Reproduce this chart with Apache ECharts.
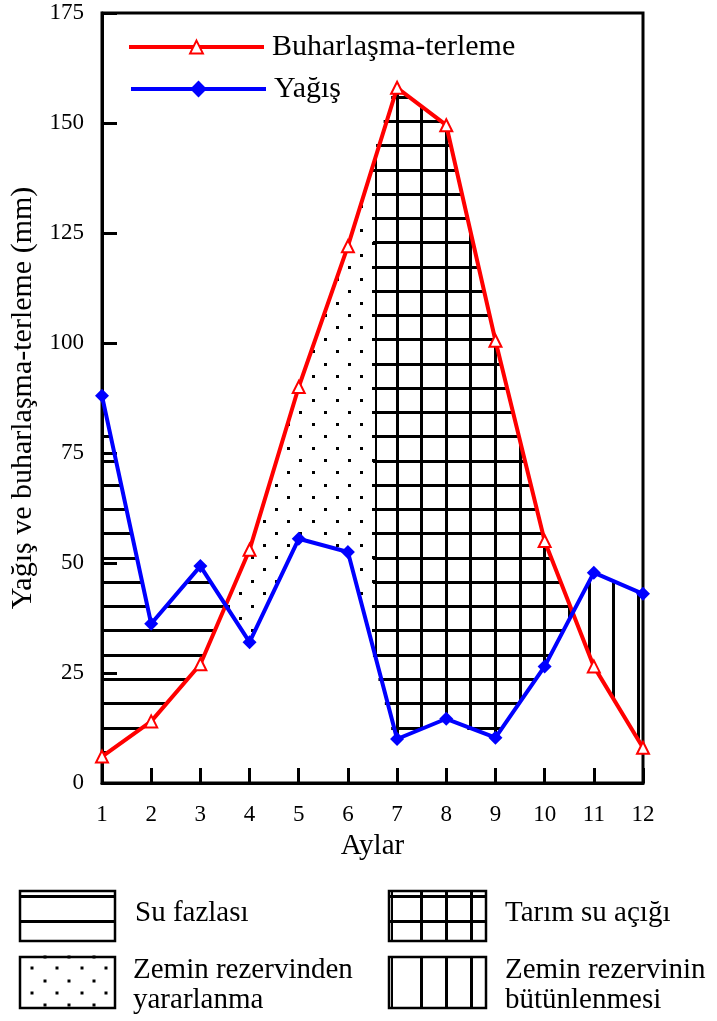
<!DOCTYPE html>
<html><head><meta charset="utf-8">
<script src="https://cdn.jsdelivr.net/npm/echarts@6/dist/echarts.min.js"></script>
<style>html,body{margin:0;padding:0;background:#fff}#c{width:717px;height:1021px}</style>
</head><body><div id="c"></div>
<script>
// ---------- data ----------
const months = [1,2,3,4,5,6,7,8,9,10,11,12];
const evapo  = [6, 14, 27, 53, 90, 122, 158, 149.5, 100.5, 55, 26.5, 8];      // Buharlaşma-terleme
const precip = [88, 36.2, 49.3, 32, 55.5, 52.5, 10, 14.6, 10.3, 26.5, 47.8, 43]; // Yağış
const yTicks = [0, 25, 50, 75, 100, 125, 150, 175];
const seriesNames = ['Buharlaşma-terleme', 'Yağış'];
const zoneLabels = ['Su fazlası', 'Zemin rezervinden\nyararlanma', 'Tarım su açığı', 'Zemin rezervinin\nbütünlenmesi'];
const reserveEndMonth = 6.57;  // month where soil reserve is exhausted (dotted → grid)

// ---------- helpers ----------
function interp(arr, x) {
  let i = Math.floor(x) - 1; if (i > arr.length - 2) i = arr.length - 2; if (i < 0) i = 0;
  const t = x - (i + 1);
  return arr[i] + (arr[i + 1] - arr[i]) * t;
}
function crossing(a, b, from, to) {
  for (let i = from - 1; i < to - 1; i++) {
    const d0 = a[i] - b[i], d1 = a[i + 1] - b[i + 1];
    if (d0 * d1 < 0) return i + 1 + d0 / (d0 - d1);
  }
  return to;
}
function zonePoly(x0, x1, upper, lower) {
  const xs = [x0];
  for (let m = Math.ceil(x0); m <= Math.floor(x1); m++) if (m > x0 && m < x1) xs.push(m);
  xs.push(x1);
  const up = xs.map(x => [x, interp(upper, x)]);
  const lo = xs.slice().reverse().map(x => [x, interp(lower, x)]);
  return up.concat(lo);
}
const c1 = crossing(precip, evapo, 1, 6);
const c2 = crossing(precip, evapo, 9, 12);
const zones = [
  { poly: zonePoly(1, c1, precip, evapo), h: true },
  { poly: zonePoly(c1, reserveEndMonth, evapo, precip), dots: true },
  { poly: zonePoly(reserveEndMonth, c2, evapo, precip), h: true, v: true, vOff: 0, leftEdge: true },
  { poly: zonePoly(c2, 12, precip, evapo), v: true, vOff: -4.5 }
];

function hSegs(P, y) {
  const xs = [];
  for (let i = 0; i < P.length; i++) {
    const p = P[i], q = P[(i + 1) % P.length];
    if ((p[1] <= y && y < q[1]) || (q[1] <= y && y < p[1])) xs.push(p[0] + (y - p[1]) * (q[0] - p[0]) / (q[1] - p[1]));
  }
  xs.sort((a, b) => a - b);
  const s = []; for (let i = 0; i + 1 < xs.length; i += 2) s.push([xs[i], xs[i + 1]]);
  return s;
}
function vSegs(P, x) {
  const ys = [];
  for (let i = 0; i < P.length; i++) {
    const p = P[i], q = P[(i + 1) % P.length];
    if ((p[0] <= x && x < q[0]) || (q[0] <= x && x < p[0])) ys.push(p[1] + (x - p[0]) * (q[1] - p[1]) / (q[0] - p[0]));
  }
  ys.sort((a, b) => a - b);
  const s = []; for (let i = 0; i + 1 < ys.length; i += 2) s.push([ys[i], ys[i + 1]]);
  return s;
}
function inside(P, x, y) {
  let c = false;
  for (let i = 0, j = P.length - 1; i < P.length; j = i++) {
    const a = P[i], b = P[j];
    if ((a[1] > y) !== (b[1] > y) && x < (b[0] - a[0]) * (y - a[1]) / (b[1] - a[1]) + a[0]) c = !c;
  }
  return c;
}
const crisp = v => Math.round(v - 0.5) + 0.5;

const FONT = '"Liberation Serif", "Times New Roman", serif';

function renderZone(params, api) {
  const z = zones[params.dataIndex];
  const P = z.poly.map(p => api.coord(p));
  const xsP = P.map(p => p[0]), ysP = P.map(p => p[1]);
  const xmin = Math.min(...xsP), xmax = Math.max(...xsP), ymin = Math.min(...ysP), ymax = Math.max(...ysP);
  const children = [];
  const lineStyle = w => ({ stroke: '#000', lineWidth: w, fill: null });
  if (z.h) {
    const sp = 24.26, y0 = api.coord([1, 12.5])[1];
    const k0 = Math.ceil((y0 - ymax) / sp), k1 = Math.floor((y0 - ymin) / sp);
    for (let k = k0; k <= k1; k++) {
      const y = y0 - k * sp;
      const yc = crisp(y);
      hSegs(P, y).forEach(s => children.push({ type: 'line', shape: { x1: s[0] - (z.leftEdge ? 3 : 0), y1: yc, x2: s[1], y2: yc }, style: lineStyle(3) }));
    }
  }
  if (z.v) {
    for (let h = 2; h <= 24; h++) {
      const x = api.coord([h / 2, 0])[0] + z.vOff;
      if (x <= xmin + 1 || x >= xmax) continue;
      const xc = crisp(x);
      vSegs(P, x).forEach(s => children.push({ type: 'line', shape: { x1: xc, y1: s[0], x2: xc, y2: s[1] }, style: lineStyle(3) }));
    }
  }
  if (z.leftEdge) {
    const a = api.coord([reserveEndMonth, interp(evapo, reserveEndMonth)]);
    const b = api.coord([reserveEndMonth, interp(precip, reserveEndMonth)]);
    children.push({ type: 'line', shape: { x1: Math.round(a[0]), y1: a[1], x2: Math.round(b[0]), y2: b[1] }, style: lineStyle(2) });
  }
  if (z.dots) {
    const ax = 361.7, ay = 279.3, dx = 24.3, dy = 12.1;
    const j0 = Math.floor((ymin - ay) / dy) - 1, j1 = Math.ceil((ymax - ay) / dy) + 1;
    for (let j = j0; j <= j1; j++) {
      const y = ay + j * dy;
      const off = (((j % 2) + 2) % 2) ? -dx / 2 : 0;
      const k0 = Math.floor((xmin - ax - off) / dx) - 1, k1 = Math.ceil((xmax - ax - off) / dx) + 1;
      for (let k = k0; k <= k1; k++) {
        const x = ax + off + k * dx;
        if (inside(P, x, y)) children.push({ type: 'rect', shape: { x: Math.round(x - 1.5), y: Math.round(y - 1.5), width: 3, height: 3 }, style: { fill: '#000' } });
      }
    }
  }
  return { type: 'group', children };
}

// ---------- bottom legend graphics ----------
const G = [];
function box(x, y, w, h) { G.push({ type: 'rect', shape: { x, y, width: w, height: h }, style: { fill: '#fff', stroke: '#000', lineWidth: 2.5 }, z: 10 }); }
function ln(x1, y1, x2, y2, w) { G.push({ type: 'line', shape: { x1, y1, x2, y2 }, style: { stroke: '#000', lineWidth: w }, z: 11 }); }
function dot(x, y) { G.push({ type: 'rect', shape: { x: x - 1.5, y: y - 1.5, width: 3, height: 3 }, style: { fill: '#000' }, z: 11 }); }
function txt(s, x, y) { G.push({ type: 'text', x, y, style: { text: s, font: '29px ' + FONT, fill: '#000', lineHeight: 30, verticalAlign: 'top' }, z: 11 }); }
// Su fazlası
box(20, 891, 95, 50); ln(20, 896.5, 115, 896.5, 3); ln(20, 921.5, 115, 921.5, 3);
// Zemin rezervinden yararlanma
box(20, 957, 95, 51);
[968, 993].forEach(y => [32, 57, 82, 106].forEach(x => dot(x, y)));
[957, 981, 1005].forEach(y => [45, 69, 94].forEach(x => dot(x, y)));
// Tarım su açığı
box(389, 891, 97, 50); ln(389, 896.5, 486, 896.5, 3); ln(389, 921.5, 486, 921.5, 3);
ln(392, 891, 392, 941, 2); [421.5, 446.5, 471.5].forEach(x => ln(x, 891, x, 941, 3));
// Zemin rezervinin bütünlenmesi
box(389, 957, 97, 51);
ln(392, 957, 392, 1008, 2); [421.5, 446.5, 471.5].forEach(x => ln(x, 957, x, 1008, 3));
txt(zoneLabels[0], 135, 898);
txt(zoneLabels[1], 133, 955);
txt(zoneLabels[2], 505, 898);
txt(zoneLabels[3], 505, 955);

// ---------- chart ----------
const chart = echarts.init(document.getElementById('c'), null, { renderer: 'canvas' });
const legendCommon = {
  orient: 'horizontal', itemWidth: 135,
  lineStyle: { width: 4 },
  textStyle: { fontFamily: FONT, fontSize: 30, color: '#000', lineHeight: 30, padding: [0, 0, 0, 3] },
  selectedMode: false
};
chart.setOption({
  animation: false,
  backgroundColor: '#fff',
  grid: { left: 102, right: 74, top: 13, bottom: 238, show: true, borderColor: '#000', borderWidth: 3, backgroundColor: 'transparent' },
  legend: [
    Object.assign({ left: 122, top: 27, itemHeight: 16, data: [seriesNames[0]] }, legendCommon),
    Object.assign({ left: 124, top: 69, itemHeight: 21, data: [seriesNames[1]] }, legendCommon)
  ],
  xAxis: {
    type: 'value', min: 1, max: 12, interval: 1,
    name: 'Aylar', nameLocation: 'middle', nameGap: 49,
    nameTextStyle: { fontFamily: FONT, fontSize: 29, color: '#000' },
    axisLine: { lineStyle: { color: '#000', width: 3 } },
    axisTick: { inside: true, length: 15, lineStyle: { color: '#000', width: 3 } },
    axisLabel: { margin: 20, fontFamily: FONT, fontSize: 23, color: '#000', formatter: v => String(months[v - 1]) },
    splitLine: { show: false }
  },
  yAxis: {
    type: 'value', min: yTicks[0], max: yTicks[yTicks.length - 1], interval: 25,
    name: 'Yağış ve buharlaşma-terleme (mm)', nameLocation: 'middle', nameGap: 63,
    nameTextStyle: { fontFamily: FONT, fontSize: 30, color: '#000' },
    axisLine: { show: true, lineStyle: { color: '#000', width: 3 } },
    axisTick: { show: true, inside: true, length: 15, lineStyle: { color: '#000', width: 3 } },
    axisLabel: { margin: 18, fontFamily: FONT, fontSize: 23, color: '#000' },
    splitLine: { show: false }
  },
  series: [
    {
      type: 'custom', name: 'zones', coordinateSystem: 'cartesian2d', silent: true, z: 1,
      renderItem: renderZone, data: zones.map(() => [1, 0]), clip: false
    },
    {
      type: 'line', name: seriesNames[0], z: 3,
      data: months.map((m, i) => [m, evapo[i]]),
      lineStyle: { color: '#ff0000', width: 4 },
      itemStyle: { color: '#ff0000', borderWidth: 2 },
      symbol: 'emptyTriangle', symbolSize: 12, showAllSymbol: true
    },
    {
      type: 'line', name: seriesNames[1], z: 4,
      data: months.map((m, i) => [m, precip[i]]),
      lineStyle: { color: '#0000ff', width: 4 },
      itemStyle: { color: '#0000ff' },
      symbol: 'diamond', symbolSize: 14, showAllSymbol: true
    }
  ],
  graphic: G
});
</script>
</body></html>
